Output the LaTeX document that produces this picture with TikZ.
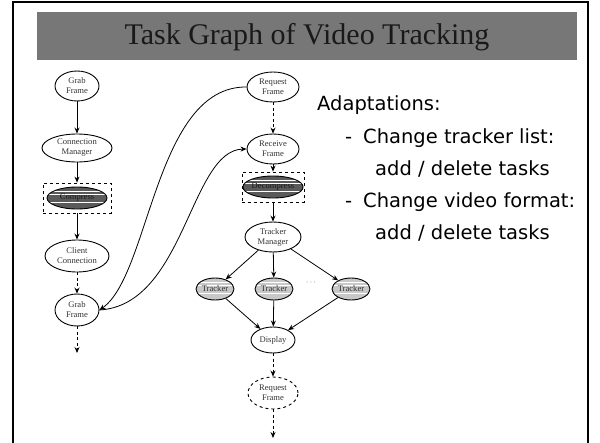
\documentclass[tikz,border=0pt]{standalone}
\usepackage{fontspec}
\setmainfont{Liberation Serif}
\newfontfamily\adfont{DejaVu Sans}
\usetikzlibrary{arrows.meta,shapes.geometric}
\definecolor{titlegray}{HTML}{777777}
\definecolor{darkfill}{HTML}{5A5A5A}
\definecolor{lightfill}{HTML}{C8C8C8}
\definecolor{nodetext}{HTML}{333333}
\tikzset{
  task/.style={draw, ellipse, inner sep=0pt, line width=0.9pt, align=center,
    font=\fontsize{8.6}{10}\selectfont, text=nodetext},
  stripes/.style={path picture={\foreach \dy in {6.5,3.5,-4.5}{\draw[white,line width=0.9pt]
      ([yshift=\dy pt]path picture bounding box.west) -- ([yshift=\dy pt]path picture bounding box.east);}}},
  darktask/.style={task, fill=darkfill, stripes, text=black!90},
  lighttask/.style={task, fill=lightfill, stripes},
  dbox/.style={draw, dashed, line width=0.8pt, rectangle, inner sep=0pt},
  arr/.style={-{Stealth[length=6pt,width=5pt,inset=2pt]}, line width=0.8pt},
  darr/.style={arr, dash pattern=on 3pt off 2.5pt},
  adtext/.style={anchor=base west, inner sep=0pt, font=\adfont\fontsize{19.5}{22}\selectfont},
}
\begin{document}
\begin{tikzpicture}[x=1pt,y=-1pt]
\useasboundingbox (0,0) rectangle (600,442);
% frame
\draw[line width=2pt] (13,443) -- (13,2) -- (588,2) -- (588,443);
% title
\fill[titlegray] (37,12) rectangle (577,60);
\node[font=\fontsize{30}{34}\selectfont, text=black!90] (title) at (307,37) {Task Graph of Video Tracking};

% left column
\node[task, minimum width=44pt, minimum height=30pt] (gf1) at (77,86) {Grab\\Frame};
\node[task, minimum width=70pt, minimum height=28pt] (cm) at (77,148) {Connection\\Manager};
\node[dbox, minimum width=68pt, minimum height=30pt] (cpbox) at (77,198) {};
\node[darktask, minimum width=60pt, minimum height=22pt] (cp) at (77,198) {Compress};
\node[task, minimum width=64pt, minimum height=32pt] (cc) at (77,256) {Client\\Connection};
\node[task, minimum width=44pt, minimum height=32pt] (gf2) at (77,310) {Grab\\Frame};
\coordinate (gfend) at (77,353);

% right column
\node[task, minimum width=52pt, minimum height=30pt] (rf) at (273,87) {Request\\Frame};
\node[task, minimum width=52pt, minimum height=30pt] (rv) at (273,149) {Receive\\Frame};
\node[dbox, minimum width=62pt, minimum height=30pt] (dcbox) at (273,187) {};
\node[darktask, minimum width=58pt, minimum height=22pt] (dc) at (273,187) {Decompress};
\node[task, minimum width=56pt, minimum height=30pt] (tm) at (273,237) {Tracker\\Manager};
\node[lighttask, minimum width=38pt, minimum height=22pt] (t1) at (215,289) {Tracker};
\node[lighttask, minimum width=38pt, minimum height=22pt] (t2) at (274,289) {Tracker};
\node[lighttask, minimum width=38pt, minimum height=22pt] (t3) at (351,289) {Tracker};
\node[font=\fontsize{8}{9.5}\selectfont, text=nodetext] (dots) at (311,283) {$\cdots$};
\node[task, minimum width=44pt, minimum height=26pt] (disp) at (273,340) {Display};
\node[task, dashed, minimum width=50pt, minimum height=32pt] (rq2) at (273,393) {Request\\Frame};
\coordinate (rqend) at (273,438);

% left edges
\draw[arr] (gf1) -- (cm);
\draw[arr] (cm) -- (cpbox.north);
\draw[arr] (cpbox.south) -- (cc);
\draw[darr] (cc) -- (gf2);
\draw[darr] (gf2) -- (gfend);

% right edges
\draw[darr] (rf) -- (rv);
\draw[arr] (rv) -- (dcbox.north);
\draw[arr] (dcbox.south) -- (tm);
\draw[arr] (tm) -- (t1);
\draw[arr] (tm) -- (t2);
\draw[arr] (tm) -- (t3);
\draw[arr] (t1) -- (disp);
\draw[arr] (t2) -- (disp);
\draw[arr] (t3) -- (disp);
\draw[darr] (disp) -- (rq2);
\draw[darr] (rq2) -- (rqend);

% cross curves
\draw[arr] (rf.west) .. controls (155,86) and (150,275) .. (gf2.east);
\draw[arr] (gf2.east) .. controls (185,305) and (190,150) .. (rv.west);

% text
\node[adtext] (ad) at (317,110) {Adaptations:};
\node[adtext] (d1) at (345,143) {-};
\node[adtext] (l1) at (363,143) {Change tracker list:};
\node[adtext] (l2) at (375,175) {add / delete tasks};
\node[adtext] (d2) at (345,207) {-};
\node[adtext] (l3) at (363,207) {Change video format:};
\node[adtext] (l4) at (375,239) {add / delete tasks};
\end{tikzpicture}
\end{document}
